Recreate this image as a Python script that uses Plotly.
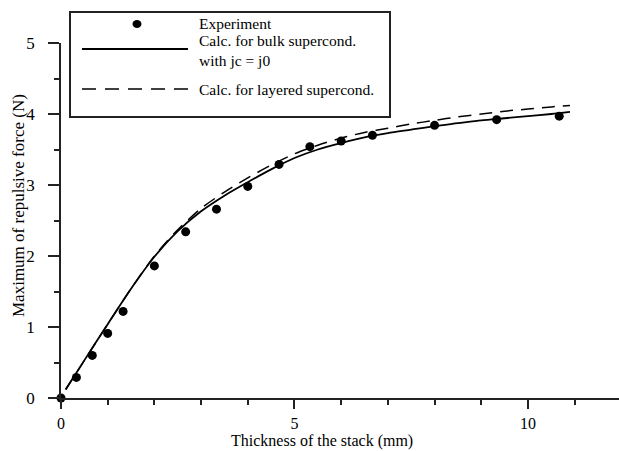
import plotly.graph_objects as go

# Experimental data
exp_x = [0.0, 0.33, 0.67, 1.0, 1.33, 2.0, 2.67, 3.33, 4.0, 4.67, 5.33, 6.0, 6.67, 8.0, 9.33, 10.67]
exp_y = [0.0, 0.29, 0.60, 0.91, 1.22, 1.86, 2.34, 2.66, 2.98, 3.29, 3.54, 3.62, 3.70, 3.84, 3.92, 3.97]

# Calculated curves
calc_x = [0.1, 0.5, 1.0, 1.5, 2.0, 2.5, 3.0, 3.5, 4.0, 4.5, 5.0, 5.5, 6.0, 6.5, 7.0, 7.5, 8.0, 8.5, 9.0, 9.5, 10.0, 10.5, 10.9]
bulk_y = [0.12, 0.53, 1.04, 1.54, 1.99, 2.35, 2.63, 2.85, 3.04, 3.22, 3.38, 3.50, 3.59, 3.67, 3.73, 3.78, 3.83, 3.87, 3.91, 3.94, 3.97, 4.00, 4.03]
layer_y = [0.12, 0.53, 1.04, 1.54, 2.00, 2.37, 2.67, 2.90, 3.10, 3.28, 3.44, 3.56, 3.66, 3.74, 3.80, 3.86, 3.91, 3.96, 4.00, 4.04, 4.07, 4.10, 4.12]

legend_labels = ["Experiment", "Calc. for bulk supercond.<br>with jc = j0", "Calc. for layered supercond."]
x_title = "Thickness of the stack (mm)"
y_title = "Maximum of repulsive force (N)"

FONT = "Liberation Serif, Times New Roman, serif"
W, H = 619, 451
L, R, T, B = 61, 0, 43, 53
PW, PH = W - L - R, H - T - B

def px(xp):
    return (xp - L) / PW

def py(yp):
    return (H - B - yp) / PH

fig = go.Figure()
fig.add_trace(go.Scatter(x=calc_x, y=bulk_y, mode="lines",
                         line=dict(color="black", width=1.8, shape="spline", smoothing=0.8), showlegend=False))
fig.add_trace(go.Scatter(x=calc_x, y=layer_y, mode="lines",
                         line=dict(color="black", width=1.5, dash="13px,8px", shape="spline", smoothing=0.8), showlegend=False))
fig.add_trace(go.Scatter(x=exp_x, y=exp_y, mode="markers",
                         marker=dict(color="black", size=9, symbol="circle"),
                         cliponaxis=False, showlegend=False))

shapes = []
annotations = []
# legend box
shapes.append(dict(type="rect", xref="paper", yref="paper",
                   x0=px(70), x1=px(390), y0=py(117), y1=py(12),
                   line=dict(color="#222", width=2), fillcolor="white", layer="above"))
# legend samples
shapes.append(dict(type="circle", xref="paper", yref="paper",
                   x0=px(132.5), x1=px(141.5), y0=py(28), y1=py(20),
                   fillcolor="black", line=dict(color="black", width=0), layer="above"))
shapes.append(dict(type="line", xref="paper", yref="paper",
                   x0=px(82), x1=px(188), y0=py(49), y1=py(49),
                   line=dict(color="black", width=2), layer="above"))
shapes.append(dict(type="line", xref="paper", yref="paper",
                   x0=px(82), x1=px(188), y0=py(89), y1=py(89),
                   line=dict(color="black", width=1.5, dash="14px,9px"), layer="above"))
for lab, ypix in zip(legend_labels, [23, 51, 89]):
    annotations.append(dict(text=lab, xref="paper", yref="paper", x=px(197), y=py(ypix),
                            xanchor="left", yanchor="middle", showarrow=False, align="left",
                            font=dict(family=FONT, size=15.5, color="black")))
# axis titles
annotations.append(dict(text=x_title, xref="paper", yref="paper", x=px(322), y=py(441),
                        xanchor="center", yanchor="middle", showarrow=False,
                        font=dict(family=FONT, size=16, color="black")))
annotations.append(dict(text=y_title, xref="paper", yref="paper", x=px(18), y=py(206),
                        xanchor="center", yanchor="middle", showarrow=False, textangle=-90,
                        font=dict(family=FONT, size=17, color="black")))

fig.update_layout(
    width=W, height=H,
    margin=dict(l=L, r=R, t=T, b=B, autoexpand=False),
    paper_bgcolor="white", plot_bgcolor="white",
    font=dict(family=FONT, size=17, color="black"),
    shapes=shapes, annotations=annotations,
    showlegend=False,
)
fig.update_xaxes(range=[0, 11.95], showgrid=False, zeroline=False, automargin=False,
                 showline=True, linecolor="#222", linewidth=1.5,
                 ticks="outside", ticklen=9, tickwidth=1.5, tickcolor="#222",
                 tickmode="array", tickvals=[0, 5, 10], ticktext=["0", "5", "10"],
                 tickfont=dict(family=FONT, size=16, color="black"),
                 minor=dict(tickvals=[1, 2, 3, 4, 6, 7, 8, 9, 11], ticks="outside", ticklen=5, tickwidth=1.5, tickcolor="#222"),
                 ticklabelstandoff=1)
fig.update_yaxes(range=[0, 5], showgrid=False, zeroline=False, automargin=False,
                 showline=True, linecolor="#222", linewidth=1.5,
                 ticks="outside", ticklen=11, tickwidth=1.5, tickcolor="#222",
                 tickmode="array", tickvals=[0, 1, 2, 3, 4, 5],
                 minor=dict(tickvals=[0.5, 1.5, 2.5, 3.5, 4.5], ticks="outside", ticklen=5, tickwidth=1.5, tickcolor="#222"),
                 ticklabelstandoff=10)

fig.write_html("out.html", config={"displayModeBar": False},
               post_script="document.body.style.margin='0';document.body.style.overflow='hidden';")
